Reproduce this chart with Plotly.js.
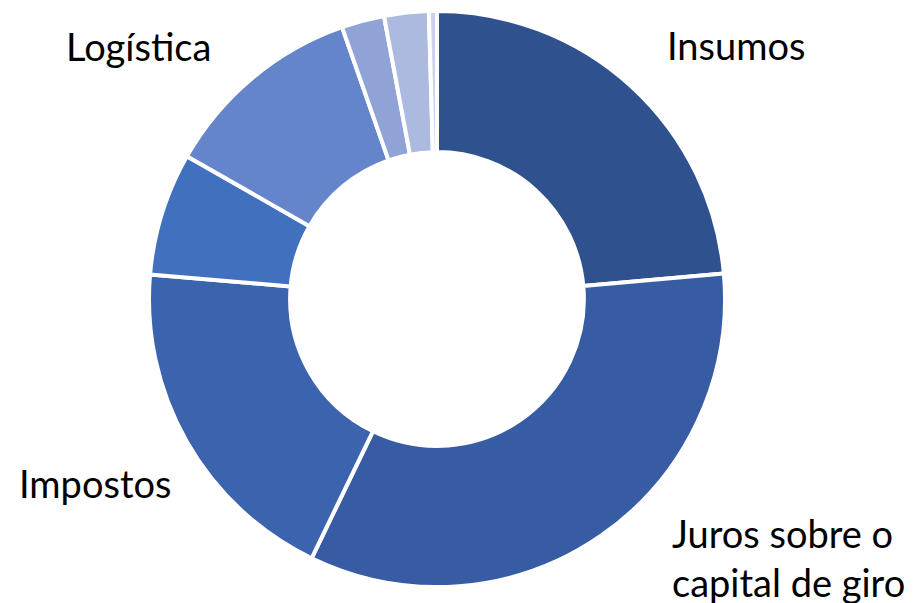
<!DOCTYPE html>
<html><head><meta charset="utf-8">
<script src="https://cdn.plot.ly/plotly-3.0.1.min.js"></script>
<style>html,body{margin:0;padding:0;background:#fff}#c{width:922px;height:603px}</style>
</head><body><div id="c"></div>
<script>
const categories = ["Insumos","Juros sobre o capital de giro","Impostos","Outros A","Logística","Outros B","Outros C","Outros D"];
const values = [23.6, 33.6, 19.2, 6.9, 11.4, 2.4, 2.5, 0.45];
const shownLabels = ["Insumos","Juros sobre o<br>capital de giro","Impostos","","Logística","","",""];
const colors = ["#2F528F","#375CA4","#3B63AE","#4170BE","#6485CA","#8FA3D6","#ADBAE0","#CBD3EC"];

const W=922,H=603, cx=437, cy=299, R=288;
// label anchor positions in pixels (style)
const labelPos = [[736,45],[788,557],[95,483],null,[138,46],null,null,null];

const annotations=[];
shownLabels.forEach((t,i)=>{
  if(!t||!labelPos[i]) return;
  annotations.push({text:t, x:labelPos[i][0]/W, y:1-labelPos[i][1]/H, xref:'paper', yref:'paper',
    xanchor:'center', yanchor:'middle', showarrow:false, align:'left',
    font:{family:'Lato, Carlito, sans-serif', size:38, color:'#000'}});
});

Plotly.newPlot('c',[{
  type:'pie', labels:categories, values:values, hole:0.51, sort:false, direction:'clockwise', rotation:0,
  marker:{colors:colors, line:{color:'#fff', width:4}}, textinfo:'none', hoverinfo:'label+percent',
  domain:{x:[(cx-R)/W,(cx+R)/W], y:[(H-cy-R)/H,(H-cy+R)/H]}
}],{
  width:W,height:H,margin:{l:0,r:0,t:0,b:0},showlegend:false,paper_bgcolor:'#fff',
  annotations:annotations
},{displayModeBar:false});
</script></body></html>
